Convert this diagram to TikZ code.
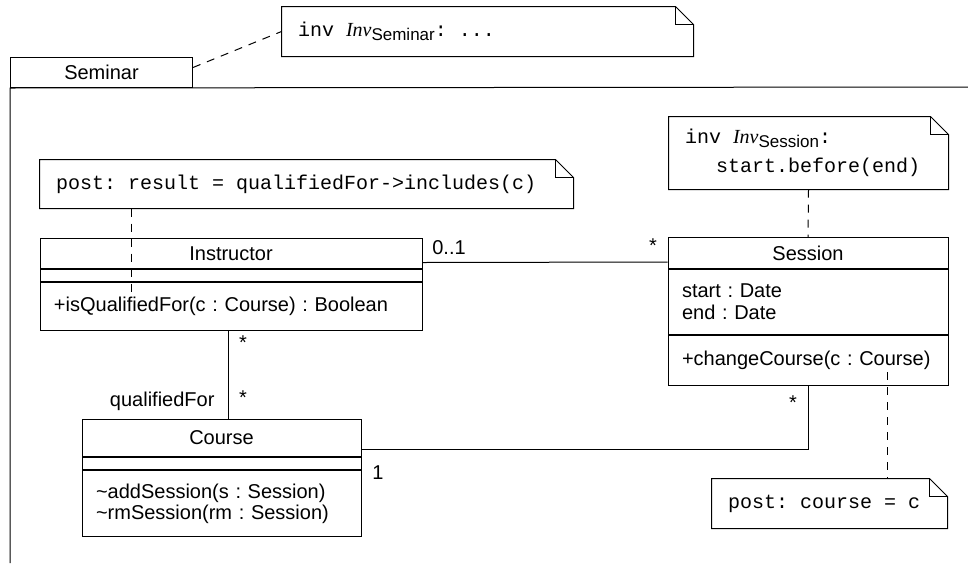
\documentclass[tikz,border=0pt]{standalone}
\usepackage{fontspec}
\setmainfont{Liberation Serif}
\setsansfont{Liberation Sans}
\setmonofont{Liberation Mono}
\usetikzlibrary{positioning}
\frenchspacing

\newcommand\invsub[1]{\raisebox{-0.4ex}{\sffamily\fontsize{8.5}{8.5}\selectfont #1}}
\newcommand\notefont{\ttfamily\fontsize{10}{12}\selectfont}
\newcommand\tsp{\hspace*{6pt}}
\newcommand\dogear[1]{%
  \draw (#1.north west) -- ([xshift=-9pt]#1.north east) -- ([yshift=-9pt]#1.north east)
    -- (#1.south east) -- (#1.south west) -- cycle;
  \draw ([xshift=-9pt]#1.north east) |- ([yshift=-9pt]#1.north east);}

\tikzset{
  clshead/.style={draw, inner sep=0pt, minimum width=#1},
  clsbody/.style={draw, inner xsep=7pt, inner ysep=0pt, text width=#1, align=left},
  note/.style={inner xsep=8pt, inner ysep=0pt, text width=#1, align=left, font=\notefont},
  notelink/.style={dash pattern=on 4pt off 3.5pt},
  mult/.style={inner sep=1pt},
}

\begin{document}
\begin{tikzpicture}[x=0.5pt,y=-0.5pt,line width=0.5pt,font=\sffamily]
  \useasboundingbox (0,0) rectangle (968,563);

  % package frame
  \node[clshead=91pt, minimum height=15pt, anchor=north west] (tab) at (10,57) {Seminar};
  \draw (10,563) -- (tab.south west) -- (968,87);

  % notes
  \node[note=189.5pt, minimum height=24.5pt] (semnote) at (487.5,31.5)
    {inv\tsp{\rmfamily\itshape Inv}\invsub{Seminar}:\tsp...};
  \dogear{semnote}
  \node[note=250.5pt, minimum height=24pt] (inote) at (306.5,184)
    {post:\tsp result\tsp=\tsp qualifiedFor->includes(c)};
  \dogear{inote}
  \node[note=123.5pt, minimum height=36pt,
    font=\ttfamily\fontsize{10}{14.5}\selectfont] (snote) at (808.5,153)
    {inv\tsp{\rmfamily\itshape Inv}\invsub{Session}:\\\hspace*{15.5pt}start.before(end)};
  \dogear{snote}
  \node[note=101.5pt, minimum height=24.5pt] (bnote) at (829.5,503.5)
    {post:\tsp course\tsp=\tsp c};
  \dogear{bnote}

  % Instructor
  \node[clshead=191pt, minimum height=15pt, anchor=north] (ihead) at (231,238) {Instructor};
  \node[clshead=191pt, minimum height=6pt, below=0pt of ihead] (iattr) {};
  \node[clsbody=177pt, minimum height=24pt, below=0pt of iattr] (iops)
    {+isQualifiedFor(c : Course) : Boolean};

  % Session
  \node[clshead=140pt, minimum height=15.5pt, anchor=north] (shead) at (808,237) {Session};
  \node[clsbody=126pt, minimum height=32.5pt, below=0pt of shead,
    font=\sffamily\fontsize{10}{11}\selectfont] (sattr) {start : Date\\end : Date};
  \node[clsbody=126pt, minimum height=25pt, below=0pt of sattr] (sops)
    {+changeCourse(c : Course)};

  % Course
  \node[clshead=139.5pt, minimum height=18.5pt, anchor=north] (chead) at (221.5,419) {Course};
  \node[clshead=139.5pt, minimum height=6pt, below=0pt of chead] (cattr) {};
  \node[clsbody=125.5pt, minimum height=33pt, below=0pt of cattr,
    font=\sffamily\fontsize{10}{10.5}\selectfont] (cops)
    {\textasciitilde addSession(s : Session)\\\textasciitilde rmSession(rm : Session)};

  % associations
  \draw ([yshift=-4.5pt]ihead.east) -- ([yshift=-4.5pt]shead.west);
  \draw ([xshift=-1.5pt]iops.south) -- ([xshift=-1.5pt]iops.south |- chead.north);
  \draw ([yshift=-5.75pt]chead.east) -| (sops.south);

  % multiplicities
  \node[mult] (m01) at (449,248) {0..1};
  \node[mult] (msi) at (653,246) {*};
  \node[mult] (mit) at (243,343) {*};
  \node[mult] (mcb) at (243,398) {*};
  \node[mult, anchor=east] (qf) at (217,401) {qualifiedFor};
  \node[mult] (mc1) at (378,473) {1};
  \node[mult] (mss) at (793,403) {*};

  % note links
  \coordinate (ianchor) at (131,292);
  \coordinate (sanchor) at (887,372);
  \draw[notelink] ([yshift=2.5pt]tab.east) -- (semnote.west);
  \draw[notelink] (inote.south -| ianchor) -- (ianchor);
  \draw[notelink] (snote.south) -- (shead.north);
  \draw[notelink] (sanchor) -- (bnote.north -| sanchor);
\end{tikzpicture}
\end{document}
